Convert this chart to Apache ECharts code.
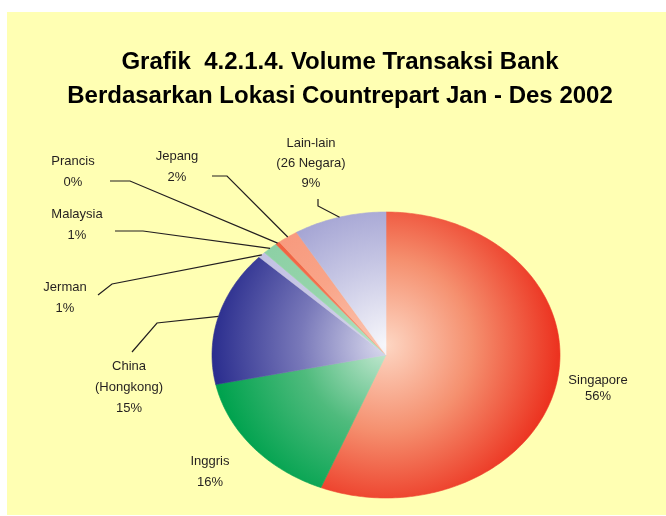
<!DOCTYPE html>
<html>
<head>
<meta charset="utf-8">
<script src="https://cdn.jsdelivr.net/npm/echarts@6/dist/echarts.min.js"></script>
<style>
body { margin: 0; background: #fff; }
#main { width: 666px; height: 516px; }
</style>
</head>
<body>
<div id="main"></div>
<script>
// data, clockwise from 12 o'clock
const countries = ['Singapore', 'Inggris', 'China\n(Hongkong)', 'Jerman', 'Malaysia', 'Prancis', 'Jepang', 'Lain-lain\n(26 Negara)'];
const shares = [56.1, 15.6, 15.3, 0.7, 1.4, 0.4, 1.9, 8.6];

// slice colours: centre / middle / rim
const innerColors = ['#fdd6c3', '#c9ead5', '#dcdcef', '#d4d4ec', '#b5e2c4', '#f6a08a', '#fbc6b2', '#f7f7fb'];
const midColors = ['#f5906f', '#4fbb7d', '#7878b9', '#c8c8e6', '#95d4ab', '#f2704f', '#f9a488', '#c4c4e3'];
const outerColors = ['#ec3320', '#00a24e', '#2c2f8f', '#c0c0e2', '#8acfa3', '#f05a3c', '#f7967a', '#9595cc'];

// label blocks (centre of text) and leader line start/elbow
const labelPlace = [
    { x: 598, y: 388, lh: 16 },
    { x: 210, y: 472, lh: 21 },
    { x: 129, y: 387, lh: 21, lead: [[132, 352], [157, 323]] },
    { x: 65, y: 298, lh: 21, lead: [[98, 295], [112, 284]] },
    { x: 77, y: 225, lh: 21, lead: [[115, 231], [143, 231]] },
    { x: 73, y: 172, lh: 21, lead: [[110, 181], [130, 181]] },
    { x: 177, y: 167, lh: 21, lead: [[212, 176], [227, 176]] },
    { x: 311, y: 163, lh: 20, lead: [[318, 199], [318, 206]] }
];

const total = shares.reduce((a, b) => a + b, 0);
const starts = [], ends = [];
let acc = 0;
shares.forEach(v => {
    starts.push(acc / total * Math.PI * 2);
    acc += v;
    ends.push(acc / total * Math.PI * 2);
});

const chart = echarts.init(document.getElementById('main'));

function renderSlice(params, api) {
    const i = params.dataIndex;
    const a0 = starts[i], a1 = ends[i];
    const c = api.coord([0, 0]);
    const steps = Math.max(2, Math.ceil((a1 - a0) / (Math.PI / 180)));
    const pts = [c];
    for (let k = 0; k <= steps; k++) {
        const a = a0 + (a1 - a0) * k / steps;
        pts.push(api.coord([Math.sin(a), Math.cos(a)]));
    }
    const fill = new echarts.graphic.RadialGradient(c[0], c[1] - 10, 172, [
        { offset: 0, color: innerColors[i] },
        { offset: 0.5, color: midColors[i] },
        { offset: 1, color: outerColors[i] }
    ], true);
    const children = [{
        type: 'polygon',
        shape: { points: pts },
        style: { fill: fill, stroke: fill, lineWidth: 0.6 }
    }];
    const lp = labelPlace[i];
    if (lp.lead) {
        const mid = (a0 + a1) / 2;
        const tip = api.coord([Math.sin(mid), Math.cos(mid)]);
        children.push({
            type: 'polyline',
            shape: { points: [lp.lead[0], lp.lead[1], tip] },
            style: { stroke: '#231f20', lineWidth: 1.2, fill: null },
            z2: 10
        });
    }
    children.push({
        type: 'text',
        x: lp.x,
        y: lp.y,
        style: {
            text: countries[i] + '\n' + Math.round(shares[i]) + '%',
            fill: '#231f20',
            font: '13px "Liberation Sans", Arial, sans-serif',
            align: 'center',
            verticalAlign: 'middle',
            lineHeight: lp.lh
        },
        z2: 20
    });
    return { type: 'group', children: children };
}

const option = {
    backgroundColor: '#ffffff',
    animation: false,
    graphic: [{
        type: 'rect',
        shape: { x: 7, y: 12, width: 659, height: 503 },
        style: { fill: '#ffffb3' },
        z: -10
    }],
    title: {
        text: 'Grafik  4.2.1.4. Volume Transaksi Bank\nBerdasarkan Lokasi Countrepart Jan - Des 2002',
        left: 340,
        top: 45,
        padding: 0,
        textAlign: 'center',
        textStyle: {
            color: '#000',
            fontSize: 24,
            fontWeight: 'bold',
            fontFamily: '"Liberation Sans", Arial, sans-serif',
            lineHeight: 34
        }
    },
    grid: { left: 212, top: 212, width: 348, height: 286 },
    xAxis: { type: 'value', min: -1, max: 1, show: false },
    yAxis: { type: 'value', min: -1, max: 1, show: false },
    series: [{
        type: 'custom',
        coordinateSystem: 'cartesian2d',
        renderItem: renderSlice,
        data: shares.map((v, i) => ({ name: countries[i], value: [0, 0, v] }))
    }]
};

chart.setOption(option);
</script>
</body>
</html>
